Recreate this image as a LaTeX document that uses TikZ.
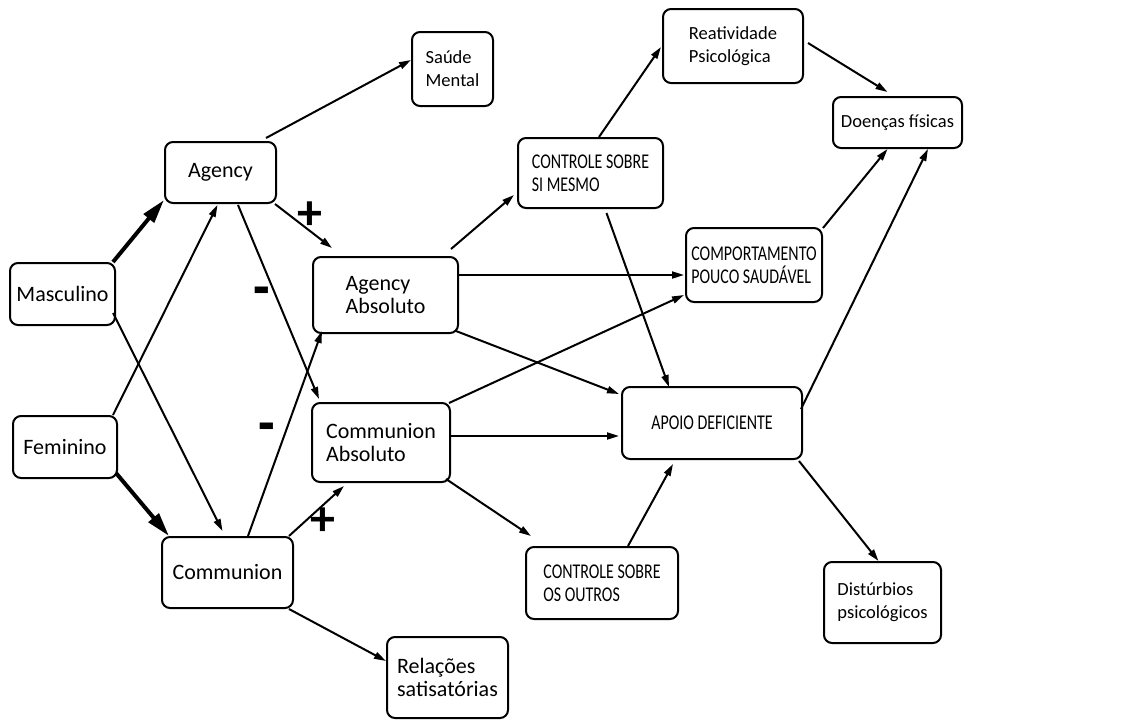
\documentclass[tikz,border=0pt]{standalone}
\usepackage{fontspec}
\setmainfont{Carlito}
\newfontfamily\capsfont[FakeStretch=0.76]{Carlito}
\usetikzlibrary{arrows.meta,calc}
\begin{document}
\begin{tikzpicture}[x=1pt,y=-1pt,
  box/.style={draw,line width=2pt,rounded corners=8pt,inner sep=0pt,align=left},
  big/.style={font=\fontsize{22}{23}\selectfont},
  small/.style={font=\fontsize{18.5}{23}\selectfont},
  caps/.style={font=\capsfont\fontsize{21}{23}\selectfont},
  link/.style={line width=2pt,-{Triangle[length=12pt,width=7pt]}},
  heavy/.style={line width=4pt,-{Triangle[length=24pt,width=13pt]}},
  plus/.style={font=\fontsize{50}{50}\selectfont\bfseries,inner sep=0pt},
  minus/.style={font=\fontsize{34}{34}\selectfont\bfseries,inner sep=0pt}]
\useasboundingbox (0,0) rectangle (1128,721);
% nodes
\node[box,small,minimum width=81pt,minimum height=74pt] (sm) at (452.5,69) {Saúde\\Mental};
\node[box,big,minimum width=111pt,minimum height=61pt] (ag) at (220.5,172.5) {Agency};
\node[box,big,minimum width=105pt,minimum height=62pt] (ma) at (62.5,294) {Masculino};
\node[box,big,minimum width=145pt,minimum height=76pt] (aa) at (385.5,295) {Agency\\Absoluto};
\node[box,big,minimum width=104pt,minimum height=62pt] (fe) at (65,447) {Feminino};
\node[box,big,minimum width=138pt,minimum height=79pt] (ca) at (381,442.5) {Communion\\Absoluto};
\node[box,big,minimum width=131pt,minimum height=71pt] (co) at (227.5,572.5) {Communion};
\node[box,big,minimum width=121pt,minimum height=81pt] (re) at (447.5,677.5) {Relações\\satisatórias};
\node[box,small,minimum width=140pt,minimum height=74pt] (rp) at (733,46) {Reatividade\\Psicológica};
\node[box,small,minimum width=129pt,minimum height=51pt] (df) at (897.5,122.5) {Doenças físicas};
\node[box,caps,minimum width=145pt,minimum height=70pt] (cs) at (590.5,173) {CONTROLE SOBRE\\SI MESMO};
\node[box,caps,minimum width=136pt,minimum height=74pt] (cp) at (754,265) {COMPORTAMENTO\\POUCO SAUDÁVEL};
\node[box,caps,minimum width=180pt,minimum height=72pt] (ad) at (712,423) {APOIO DEFICIENTE};
\node[box,caps,minimum width=152pt,minimum height=72pt] (cx) at (602,583) {CONTROLE SOBRE\\OS OUTROS};
\node[box,small,minimum width=117pt,minimum height=81pt] (dp) at (882.5,602.5) {Distúrbios\\psicológicos};
% connectors
\draw[link] ($(ag.north east)+(-11,-3)$) -- ($(sm.west)+(0,-9)$);
\draw[heavy] ($(ma.north east)+(-3,0)$) -- ($(ag.south west)+(0,-4)$);
\draw[link] ($(fe.north east)+(-5,0)$) -- ($(ag.south)+(-3,1)$);
\draw[link] ($(ma.east)+(-3,19)$) -- ($(co.north)+(-5,-5)$);
\draw[link] ($(ag.south east)+(-2,0)$) -- ($(aa.north west)+(20,-8)$);
\draw[link] ($(ag.south)+(17.5,1)$) -- ($(ca.north west)+(8,-3)$);
\draw[link] ($(co.north)+(20.5,0)$) -- ($(aa.south west)+(10,-3)$);
\draw[heavy] ($(fe.south east)+(-2,-6)$) -- ($(co.north west)+(8,0)$);
\draw[link] ($(co.north east)+(-5,0)$) -- ($(ca.south west)+(33,3)$);
\draw[link] ($(co.south east)+(-5,0)$) -- ($(re.north west)+(0,25)$);
\draw[link] ($(aa.north east)+(-8,-7)$) -- ($(cs.west)+(-3,22)$);
\draw[link] ($(aa.east)+(0,-20)$) -- ($(cp.west)+(-1,10)$);
\draw[link] ($(aa.south east)+(-3,-3)$) -- ($(ad.north west)+(-2,8)$);
\draw[link] ($(ca.north east)+(-2,1)$) -- ($(cp.west)+(-1,30)$);
\draw[link] ($(ca.east)+(0,-6.5)$) -- ($(ad.west)+(-2,13)$);
\draw[link] ($(ca.south east)+(-5,-4)$) -- ($(cx.north west)+(6,-10)$);
\draw[link] ($(cs.south)+(16,4)$) -- ($(ad.north west)+(48,1)$);
\draw[link] ($(cx.north)+(26,0)$) -- ($(ad.south)+(-39,4)$);
\draw[link] ($(cs.north)+(8.5,0)$) -- ($(rp.west)+(-1,1)$);
\draw[link] ($(rp.east)+(4,-3)$) -- ($(df.north)+(-10,-4)$);
\draw[link] ($(cp.north east)+(0,1)$) -- ($(df.south)+(-10,0)$);
\draw[link] ($(ad.north east)+(-2,23)$) -- ($(df.south east)+(-35,0)$);
\draw[link] ($(ad.south east)+(-4,1)$) -- ($(dp.north)+(-4,0)$);
% signs
\node[plus] (p1) at (310,216) {+};
\node[minus] (m1) at (262,299) {\scalebox{1.1}[2.2]{–}};
\node[minus] (m2) at (267,435) {\scalebox{1.1}[2.2]{–}};
\node[plus] (p2) at (323,522) {+};
\end{tikzpicture}
\end{document}
